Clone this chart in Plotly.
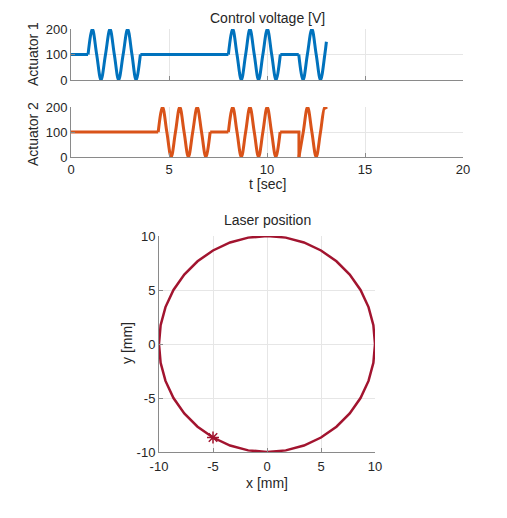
import plotly.graph_objects as go

# ---------------- data ----------------
t_act1 = [0, 0.87, 1.09, 1.31, 1.53, 1.76, 1.99, 2.21, 2.43, 2.66, 2.89, 3.11, 3.32, 3.54,
          8.03, 8.25, 8.47, 8.69, 8.91, 9.13, 9.35, 9.57, 9.79, 10.02, 10.24, 10.46, 10.68,
          11.62, 11.84, 12.06, 12.29, 12.51, 12.73, 12.95, 13.03]
v_act1 = [100, 100, 200, 100, 0, 100, 200, 100, 0, 100, 200, 100, 0, 100,
          100, 200, 100, 0, 100, 200, 100, 0, 100, 200, 100, 0, 100,
          100, 0, 100, 200, 100, 0, 100, 150]

t_act2 = [0, 4.45, 4.67, 4.89, 5.11, 5.33, 5.55, 5.77, 5.99, 6.21, 6.44, 6.66, 6.88, 7.10,
          8.03, 8.25, 8.47, 8.69, 8.91, 9.13, 9.35, 9.57, 9.79, 10.01, 10.23, 10.45, 10.67,
          11.63, 11.63, 11.85, 12.07, 12.29, 12.51, 12.73, 12.95, 13.04]
v_act2 = [100, 100, 200, 100, 0, 100, 200, 100, 0, 100, 200, 100, 0, 100,
          100, 200, 100, 0, 100, 200, 100, 0, 100, 200, 100, 0, 100,
          100, 0, 100, 200, 100, 0, 100, 200, 192]

x_laser = [10, 9.85, 9.40, 8.66, 7.66, 6.43, 5.00, 3.42, 1.74, 0, -1.74, -3.42, -5.00,
           -6.43, -7.66, -8.66, -9.40, -9.85, -10, -9.85, -9.40, -8.66, -7.66, -6.43,
           -5.00, -3.42, -1.74, 0, 1.74, 3.42, 5.00, 6.43, 7.66, 8.66, 9.40, 9.85, 10]
y_laser = [0, 1.74, 3.42, 5.00, 6.43, 7.66, 8.66, 9.40, 9.85, 10, 9.85, 9.40, 8.66,
           7.66, 6.43, 5.00, 3.42, 1.74, 0, -1.74, -3.42, -5.00, -6.43, -7.66,
           -8.66, -9.40, -9.85, -10, -9.85, -9.40, -8.66, -7.66, -6.43, -5.00, -3.42, -1.74, 0]
x_current = [-5.0]
y_current = [-8.66]

t_ticks = [0, 5, 10, 15, 20]
v_ticks = [0, 100, 200]
pos_ticks = [-10, -5, 0, 5, 10]
pos_ticktext = ["-10", "-5", "0", "5", "10"]

C1 = "#0072BD"
C2 = "#D95319"
C3 = "#A2142F"
W, H = 507, 518


def runs(t, v):
    """split knots into straight (flat / vertical) runs and curved runs"""
    out = []
    cur_kind = None
    cur = []
    for i in range(len(t) - 1):
        kind = "linear" if (v[i] == v[i + 1] or t[i] == t[i + 1]) else "spline"
        if kind != cur_kind:
            if cur:
                out.append((cur_kind, cur))
            cur = [i]
            cur_kind = kind
        cur.append(i + 1)
    out.append((cur_kind, cur))
    return out


fig = go.Figure()
for (t, v, col, xa, ya) in [(t_act1, v_act1, C1, "x", "y"), (t_act2, v_act2, C2, "x2", "y2")]:
    for kind, idx in runs(t, v):
        fig.add_trace(go.Scatter(
            x=[t[i] for i in idx], y=[v[i] for i in idx], mode="lines",
            line=dict(color=col, width=3, shape=kind, smoothing=1.0),
            xaxis=xa, yaxis=ya, showlegend=False, hoverinfo="skip"))

fig.add_trace(go.Scatter(x=x_laser, y=y_laser, mode="lines",
                         line=dict(color=C3, width=2.5), xaxis="x3", yaxis="y3",
                         showlegend=False))
fig.add_trace(go.Scatter(x=x_current, y=y_current, mode="markers",
                         marker=dict(symbol="asterisk-open", size=10, color=C3,
                                     line=dict(color=C3, width=1.5)),
                         xaxis="x3", yaxis="y3", showlegend=False, cliponaxis=False))

AXC = "#8a8a8a"
GRID = "#e6e6e6"
TXT = "#262626"


def ax(**kw):
    d = dict(showline=True, linecolor=AXC, linewidth=1, ticks="inside", ticklen=4,
             tickcolor=AXC, showgrid=True, gridcolor=GRID, gridwidth=1, zeroline=False,
             tickfont=dict(size=13, color=TXT, family="Liberation Sans, Arial"),
             fixedrange=True, automargin=False)
    d.update(kw)
    return d


def px_x(p):
    return p / W


def px_y(p):
    return 1 - p / H


xd = [px_x(71), px_x(463)]
fig.update_layout(
    template="none",
    width=W, height=H, margin=dict(l=0, r=0, t=0, b=0, pad=0),
    paper_bgcolor="white", plot_bgcolor="white",
    xaxis=ax(domain=xd, range=[0, 20], tickvals=t_ticks, showticklabels=False, anchor="y"),
    yaxis=ax(domain=[px_y(80), px_y(29)], range=[0, 200], tickvals=v_ticks, anchor="x"),
    xaxis2=ax(domain=xd, range=[0, 20], tickvals=t_ticks, anchor="y2", ticklabelstandoff=0),
    yaxis2=ax(domain=[px_y(157), px_y(107)], range=[0, 200], tickvals=v_ticks, anchor="x2"),
    xaxis3=ax(domain=[px_x(159), px_x(375)], range=[-10, 10], tickvals=pos_ticks,
              ticktext=pos_ticktext, anchor="y3", ticklabelstandoff=2),
    yaxis3=ax(domain=[px_y(452), px_y(236)], range=[-10, 10], tickvals=pos_ticks,
              ticktext=pos_ticktext, anchor="x3"),
    font=dict(family="Liberation Sans, Arial", color=TXT),
)

labels = [
    ("Control voltage [V]", 267, 18, 0),
    ("Actuator 1", 33, 54, -90),
    ("Actuator 2", 33, 134, -90),
    ("t [sec]", 267, 184, 0),
    ("Laser position", 267, 220, 0),
    ("y [mm]", 127, 343, -90),
    ("x [mm]", 267, 483, 0),
]
for text, x, y, rot in labels:
    fig.add_annotation(text=text, x=px_x(x), y=px_y(y), xref="paper", yref="paper",
                       xanchor="center", yanchor="middle", showarrow=False,
                       textangle=rot, font=dict(size=14, color=TXT))

fig.write_html("out.html")
